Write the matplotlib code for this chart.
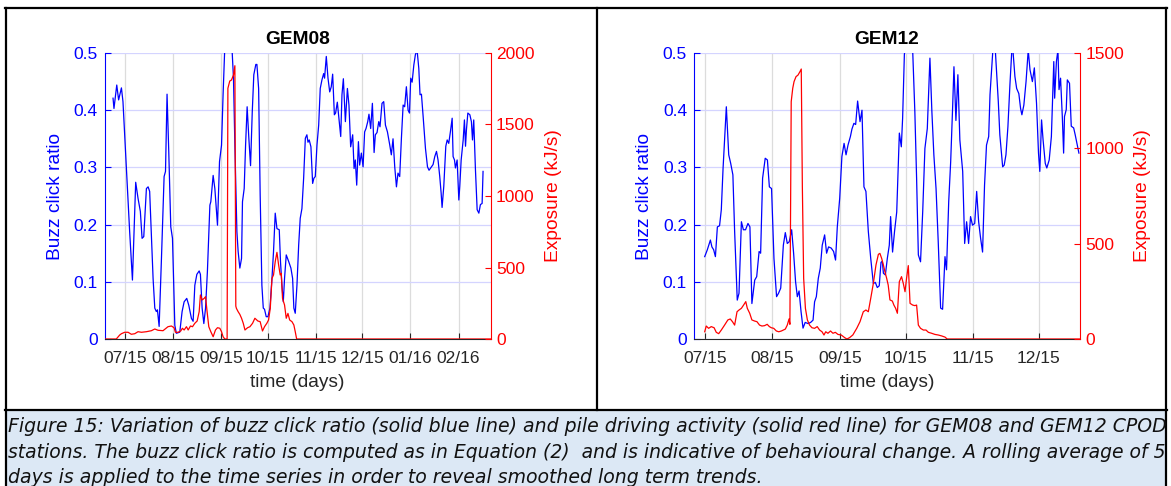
import numpy as np
import pandas as pd
import matplotlib
matplotlib.use("Agg")
import matplotlib.pyplot as plt
import matplotlib.dates as mdates
from matplotlib.lines import Line2D
from matplotlib.patches import Rectangle

# Buzz click ratio and pile driving exposure (5-day rolling mean)
# time axis: days counted from 1 July 2015
START = pd.Timestamp("2015-07-01")

# ---- GEM08 ----
gem08_ratio_days = [
    -7.6, -7.0, -5.2, -4.0, -2.2, -1.2, 1.0, 3.1, 4.9, 7.0,
    8.5, 10.0, 11.1, 12.2, 13.9, 15.0, 16.0, 18.2, 19.3, 20.3,
    21.0, 22.1, 23.6, 25.3, 26.2, 27.2, 28.3, 29.6, 30.7, 32.2,
    33.2, 35.4, 36.9, 38.2, 39.9, 41.2, 42.9, 44.0, 45.1, 46.4,
    47.9, 48.7, 49.8, 50.9, 52.0, 53.2, 54.8, 55.4, 56.9, 58.0,
    59.7, 61.0, 62.3, 63.3, 64.4, 65.5, 67.5, 69.1, 70.0, 70.9,
    72.2, 73.0, 74.1, 75.2, 75.8, 76.9, 77.8, 78.8, 79.9, 81.0,
    82.1, 83.1, 84.4, 85.1, 86.2, 87.2, 88.3, 89.2, 90.0, 91.1,
    92.2, 93.5, 94.8, 95.8, 96.9, 98.0, 99.5, 100.3, 101.2, 102.1,
    102.9, 104.0, 105.5, 107.0, 108.1, 108.9, 109.8, 110.9, 112.0, 113.0,
    114.1, 115.2, 116.3, 117.3, 118.0, 118.8, 119.9, 121.0, 121.8, 122.7,
    123.8, 124.9, 125.9, 127.0, 128.1, 128.7, 129.8, 130.9, 132.0, 133.0,
    133.9, 135.0, 135.8, 136.9, 137.8, 139.1, 139.9, 140.8, 142.1, 143.4,
    144.4, 145.5, 146.8, 147.7, 148.5, 149.4, 150.5, 151.3, 152.4, 153.5,
    154.5, 155.4, 156.5, 157.3, 158.4, 159.5, 160.6, 161.4, 162.5, 163.6,
    164.4, 165.7, 166.8, 167.9, 169.2, 170.7, 171.7, 172.8, 173.9, 175.0,
    176.0, 177.1, 178.2, 179.3, 180.3, 181.4, 182.5, 183.4, 184.2, 185.1,
    186.2, 187.2, 188.3, 189.4, 190.2, 191.1, 192.2, 193.7, 195.0, 196.0,
    198.6, 199.7, 200.8, 201.8, 202.9, 203.8, 204.4, 205.5, 206.8, 207.7,
    208.7, 209.8, 210.9, 211.5, 212.4, 213.0, 214.1, 215.2, 215.8, 216.7,
    218.0, 218.8, 219.5, 220.1, 221.0, 222.3, 223.3, 224.0, 224.8, 225.9,
    227.0, 228.1, 229.1, 230.2, 230.8,
]
gem08_ratio = [
    0.421, 0.403, 0.444, 0.418, 0.439, 0.415, 0.298, 0.188, 0.103, 0.274,
    0.246, 0.223, 0.176, 0.179, 0.263, 0.266, 0.258, 0.106, 0.054, 0.048,
    0.051, 0.022, 0.141, 0.284, 0.293, 0.428, 0.328, 0.196, 0.176, 0.024,
    0.010, 0.012, 0.048, 0.065, 0.071, 0.059, 0.036, 0.031, 0.094, 0.113,
    0.119, 0.113, 0.054, 0.027, 0.054, 0.118, 0.234, 0.240, 0.286, 0.263,
    0.199, 0.310, 0.339, 0.427, 0.510, 0.560, 0.550, 0.505, 0.456, 0.339,
    0.188, 0.153, 0.124, 0.141, 0.240, 0.263, 0.339, 0.406, 0.351, 0.303,
    0.397, 0.462, 0.480, 0.480, 0.438, 0.252, 0.094, 0.054, 0.052, 0.039,
    0.039, 0.054, 0.106, 0.153, 0.220, 0.193, 0.191, 0.135, 0.094, 0.065,
    0.106, 0.147, 0.136, 0.124, 0.106, 0.054, 0.045, 0.094, 0.164, 0.211,
    0.228, 0.281, 0.351, 0.357, 0.344, 0.348, 0.336, 0.272, 0.281, 0.284,
    0.339, 0.374, 0.438, 0.453, 0.464, 0.456, 0.494, 0.456, 0.432, 0.441,
    0.463, 0.392, 0.395, 0.414, 0.389, 0.354, 0.427, 0.455, 0.380, 0.438,
    0.409, 0.336, 0.357, 0.298, 0.313, 0.269, 0.345, 0.304, 0.325, 0.301,
    0.362, 0.368, 0.380, 0.393, 0.368, 0.412, 0.326, 0.357, 0.361, 0.380,
    0.371, 0.412, 0.415, 0.374, 0.362, 0.339, 0.322, 0.350, 0.301, 0.266,
    0.290, 0.284, 0.351, 0.409, 0.406, 0.441, 0.400, 0.395, 0.456, 0.449,
    0.479, 0.497, 0.505, 0.473, 0.427, 0.428, 0.389, 0.333, 0.301, 0.295,
    0.305, 0.319, 0.328, 0.313, 0.284, 0.255, 0.230, 0.267, 0.337, 0.348,
    0.342, 0.363, 0.386, 0.319, 0.313, 0.299, 0.313, 0.243, 0.267, 0.313,
    0.348, 0.383, 0.337, 0.366, 0.395, 0.392, 0.380, 0.348, 0.383, 0.296,
    0.226, 0.220, 0.235, 0.237, 0.293,
]
gem08_exp_days = [
    -13.1, -5.5, -3.3, -2.2, -0.1, 2.1, 4.2, 6.4, 8.5, 10.7,
    13.9, 17.1, 19.3, 21.4, 24.6, 27.8, 30.0, 31.7, 32.6, 34.3,
    36.0, 37.1, 38.2, 39.7, 40.8, 42.3, 43.6, 45.1, 46.6, 47.9,
    48.7, 49.8, 51.1, 52.0, 53.0, 54.1, 55.4, 56.9, 58.4, 59.7,
    61.2, 62.3, 63.3, 64.4, 65.9, 66.4, 67.6, 68.7, 70.0, 70.9,
    71.5, 71.9, 73.0, 74.1, 75.2, 76.3, 77.4, 79.1, 80.6, 82.3,
    83.8, 85.7, 87.2, 88.7, 90.0, 91.5, 92.6, 93.7, 94.8, 95.8,
    96.9, 98.0, 99.1, 100.1, 100.8, 101.6, 102.9, 104.0, 105.1, 106.2,
    107.7, 108.9, 109.8, 110.7, 235.6,
]
gem08_exp = [
    0, 0, 28, 37, 47, 47, 33, 37, 51, 47,
    51, 58, 70, 61, 58, 86, 91, 79, 47, 47,
    56, 75, 63, 86, 63, 91, 86, 110, 126, 191,
    308, 273, 284, 296, 191, 86, 51, 16, 63, 79,
    75, 51, 16, 0, 0, 1753, 1804, 1811, 1846, 1911,
    230, 214, 191, 172, 145, 110, 63, 79, 86, 110,
    145, 126, 121, 56, 86, 110, 133, 214, 424, 448,
    541, 606, 517, 448, 459, 284, 238, 145, 179, 133,
    121, 98, 51, 0, 0,
]

# ---- GEM12 ----
gem12_ratio_days = [
    0.0, 1.2, 2.6, 3.3, 4.1, 4.9, 5.8, 6.8, 7.6, 8.4,
    9.9, 11.0, 11.9, 12.9, 13.7, 14.9, 15.7, 16.8, 17.7, 18.7,
    19.8, 20.7, 21.6, 22.9, 23.8, 24.9, 25.6, 26.5, 27.7, 28.7,
    29.6, 30.6, 31.7, 32.9, 33.8, 34.8, 36.0, 36.9, 37.8, 38.7,
    39.8, 40.7, 41.6, 42.4, 43.2, 44.1, 45.0, 46.0, 47.3, 48.5,
    49.6, 50.3, 51.1, 52.0, 52.9, 53.8, 54.9, 55.8, 56.7, 57.9,
    59.0, 59.9, 60.7, 61.8, 62.8, 63.8, 64.7, 65.6, 66.7, 67.4,
    68.3, 69.1, 70.0, 71.1, 72.0, 72.9, 73.8, 74.9, 76.0, 77.2,
    78.1, 79.0, 79.9, 80.7, 81.3, 81.8, 82.7, 83.6, 84.5, 85.1,
    86.0, 86.9, 87.9, 89.1, 90.0, 90.6, 91.4, 93.2, 95.2, 96.2,
    97.0, 97.8, 98.8, 99.8, 100.8, 101.9, 103.1, 104.0, 104.9, 105.9,
    106.9, 108.0, 108.9, 110.0, 110.7, 111.7, 112.6, 113.5, 114.1, 115.0,
    115.9, 116.8, 118.1, 119.0, 119.9, 120.8, 121.7, 122.6, 123.6, 124.5,
    125.4, 126.3, 127.2, 128.1, 129.0, 130.0, 130.6, 132.5, 134.4, 135.1,
    136.4, 137.1, 137.9, 138.8, 139.7, 140.8, 142.0, 142.8, 143.8, 144.6,
    145.2, 146.1, 147.1, 148.1, 148.9, 150.0, 150.9, 151.9, 152.8, 153.4,
    154.2, 154.9, 155.9, 156.6, 157.7, 158.7, 159.8, 160.2, 161.0, 161.7,
    162.2, 162.9, 163.7, 164.3, 164.7, 165.5, 166.0, 167.0, 167.8, 168.9,
    169.6, 170.5, 171.3,
]
gem12_ratio = [
    0.144, 0.156, 0.173, 0.161, 0.156, 0.144, 0.196, 0.198, 0.226, 0.298,
    0.406, 0.322, 0.307, 0.287, 0.188, 0.068, 0.080, 0.205, 0.191, 0.191,
    0.202, 0.196, 0.062, 0.103, 0.109, 0.153, 0.150, 0.281, 0.316, 0.313,
    0.266, 0.263, 0.141, 0.074, 0.080, 0.089, 0.164, 0.186, 0.167, 0.170,
    0.191, 0.150, 0.100, 0.074, 0.084, 0.048, 0.019, 0.029, 0.027, 0.029,
    0.033, 0.065, 0.074, 0.106, 0.124, 0.164, 0.182, 0.150, 0.161, 0.159,
    0.153, 0.138, 0.196, 0.246, 0.319, 0.342, 0.322, 0.339, 0.354, 0.367,
    0.377, 0.375, 0.416, 0.380, 0.400, 0.266, 0.258, 0.188, 0.141, 0.097,
    0.099, 0.090, 0.093, 0.134, 0.136, 0.115, 0.112, 0.141, 0.164, 0.214,
    0.152, 0.188, 0.222, 0.360, 0.336, 0.386, 0.497, 0.560, 0.505, 0.397,
    0.281, 0.147, 0.135, 0.223, 0.333, 0.368, 0.491, 0.397, 0.322, 0.263,
    0.170, 0.054, 0.052, 0.144, 0.121, 0.240, 0.310, 0.406, 0.476, 0.382,
    0.462, 0.348, 0.293, 0.167, 0.205, 0.167, 0.214, 0.199, 0.202, 0.258,
    0.205, 0.176, 0.152, 0.269, 0.339, 0.354, 0.427, 0.540, 0.415, 0.357,
    0.301, 0.304, 0.322, 0.371, 0.443, 0.520, 0.459, 0.438, 0.429, 0.403,
    0.392, 0.409, 0.450, 0.505, 0.471, 0.450, 0.474, 0.412, 0.325, 0.293,
    0.383, 0.348, 0.307, 0.299, 0.313, 0.354, 0.485, 0.421, 0.485, 0.505,
    0.436, 0.456, 0.389, 0.325, 0.389, 0.401, 0.453, 0.447, 0.372, 0.369,
    0.357, 0.340, 0.325,
]
gem12_exp_days = [
    0.0, 0.7, 1.8, 3.0, 4.3, 5.3, 6.4, 7.6, 9.1, 10.6,
    11.7, 12.7, 13.7, 14.8, 15.7, 16.8, 17.8, 18.8, 19.5, 20.6,
    21.6, 22.9, 23.9, 25.1, 26.2, 27.4, 28.6, 29.6, 30.5, 31.6,
    32.8, 33.9, 35.1, 36.0, 36.9, 37.8, 38.6, 39.0, 39.6, 40.3,
    40.9, 41.8, 42.7, 43.6, 44.2, 44.7, 45.3, 46.1, 47.0, 48.0,
    49.1, 50.3, 51.5, 52.6, 53.7, 54.6, 55.4, 56.4, 57.6, 58.7,
    59.8, 61.0, 62.5, 64.1, 65.1, 66.3, 67.8, 69.6, 71.1, 72.6,
    73.8, 74.9, 76.0, 77.2, 78.4, 79.5, 80.2, 81.0, 81.8, 82.5,
    83.3, 84.0, 84.8, 85.9, 86.6, 87.4, 88.2, 89.1, 90.1, 90.9,
    91.7, 92.4, 93.2, 94.0, 95.2, 96.2, 97.0, 97.8, 98.8, 100.1,
    101.3, 102.4, 103.9, 105.4, 106.9, 108.5, 110.0, 111.0, 171.8,
]
gem12_exp = [
    38, 68, 56, 65, 59, 35, 28, 47, 73, 100,
    105, 91, 73, 143, 152, 161, 178, 196, 161, 135,
    100, 94, 91, 73, 68, 70, 77, 65, 59, 56,
    42, 38, 42, 47, 52, 73, 105, 77, 1245, 1315,
    1350, 1376, 1384, 1402, 1416, 800, 318, 161, 100, 73,
    59, 56, 65, 47, 38, 21, 38, 30, 42, 30,
    35, 24, 21, 7, 0, 7, 21, 56, 91, 143,
    152, 143, 213, 292, 388, 444, 449, 423, 388, 353,
    318, 283, 205, 199, 178, 161, 135, 301, 327, 292,
    248, 318, 385, 187, 178, 175, 178, 73, 56, 47,
    47, 35, 30, 24, 21, 16, 10, 0, 0,
]

ratio_ticks = [0, 0.1, 0.2, 0.3, 0.4, 0.5]
ratio_labels = ["0", "0.1", "0.2", "0.3", "0.4", "0.5"]

caption = [
    "Figure 15: Variation of buzz click ratio (solid blue line) and pile driving "
    "activity (solid red line) for GEM08 and GEM12 CPOD",
    "stations. The buzz click ratio is computed as in Equation (2)  and is "
    "indicative of behavioural change. A rolling average of 5",
    "days is applied to the time series in order to reveal smoothed long term trends.",
]


def to_dates(days):
    return START + pd.to_timedelta(np.asarray(days, dtype=float), unit="D")


plt.rcParams["font.family"] = ["Liberation Sans", "DejaVu Sans"]

W, H = 1171, 486
fig = plt.figure(figsize=(W / 100, H / 100), dpi=100)

BLUE = "#0000ff"
RED = "#ff0000"
DARK = "#262626"


def panel(left_px, title, r_days, ratio, e_days, exposure, e_max, e_ticks, xlim):
    ax = fig.add_axes([left_px / W, 1 - 339 / H, 386 / W, 286 / H])
    ax2 = ax.twinx()

    ax.plot(to_dates(r_days), ratio, color=BLUE, lw=0.9, zorder=3)
    ax2.plot(to_dates(e_days), exposure, color=RED, lw=0.9)

    ax.set_xlim(to_dates(xlim)[0], to_dates(xlim)[1])
    ax.set_ylim(0, 0.5)
    ax2.set_ylim(0, e_max)
    ax.set_yticks(ratio_ticks)
    ax.set_yticklabels(ratio_labels)
    ax2.set_yticks(e_ticks)

    ax.xaxis.set_major_locator(mdates.MonthLocator())
    ax.xaxis.set_major_formatter(mdates.DateFormatter("%m/%y"))

    ax.set_axisbelow(True)
    ax.grid(axis="x", color="#dcdcdc", lw=0.9)
    ax.grid(axis="y", color="#d4d4ff", lw=0.9)

    for s in ("top", "right"):
        ax.spines[s].set_visible(False)
    for s in ("top", "left", "bottom"):
        ax2.spines[s].set_visible(False)
    ax.spines["left"].set_color(BLUE)
    ax.spines["bottom"].set_color(DARK)
    ax2.spines["right"].set_color(RED)
    for sp in (ax.spines["left"], ax.spines["bottom"], ax2.spines["right"]):
        sp.set_linewidth(0.8)

    ax.tick_params(axis="y", direction="in", length=4, width=0.8,
                   colors=BLUE, labelsize=12.5, pad=5)
    ax.tick_params(axis="x", direction="in", length=4, width=0.8,
                   colors=DARK, labelsize=12.5, pad=8.5)
    ax2.tick_params(axis="y", direction="in", length=4, width=0.8,
                    colors=RED, labelsize=12.5, pad=4)

    ax.set_title(title, fontsize=13.75, fontweight="bold", pad=6.5)
    ax.set_ylabel("Buzz click ratio", color=BLUE, fontsize=13.75, labelpad=7)
    ax.set_xlabel("time (days)", color=DARK, fontsize=13.75, labelpad=6)
    ax2.set_ylabel("Exposure (kJ/s)", color=RED, fontsize=13.75,
                   rotation=90, labelpad=7)
    return ax, ax2


panel(104.5, "GEM08", gem08_ratio_days, gem08_ratio, gem08_exp_days, gem08_exp,
      2000, [0, 500, 1000, 1500, 2000], [-13.1, 235.6])
panel(694, "GEM12", gem12_ratio_days, gem12_ratio, gem12_exp_days, gem12_exp,
      1500, [0, 500, 1000, 1500], [-4.9, 171.8])

# table frame around the two plots and the caption row
fig.add_artist(Rectangle((6 / W, 0), 1160 / W, 1 - 411 / H, transform=fig.transFigure,
                         facecolor="#dce8f5", edgecolor="none", zorder=-1))


def frame_line(x0, y0, x1, y1):
    fig.add_artist(Line2D([x0 / W, x1 / W], [1 - y0 / H, 1 - y1 / H],
                          transform=fig.transFigure, color="black", lw=1.6))


frame_line(5, 8, 1167, 8)
frame_line(6, 8, 6, 486)
frame_line(1166, 8, 1166, 486)
frame_line(597, 8, 597, 410)
frame_line(5, 410, 1167, 410)

# caption: the first two lines are stretched to the full cell width
renderer = fig.canvas.get_renderer()
texts = []
for i, line in enumerate(caption):
    t = fig.text(8 / W, 1 - (432 + 25.5 * i) / H, line, fontsize=12,
                 family=["DejaVu Sans"], style="italic", color="#111111",
                 va="baseline", ha="left")
    texts.append(t)
sizes = [12 * 1155 / t.get_window_extent(renderer).width for t in texts[:2]]
texts[0].set_fontsize(sizes[0])
texts[1].set_fontsize(sizes[1])
texts[2].set_fontsize(sizes[0])

fig.savefig("out.png", dpi=100)
